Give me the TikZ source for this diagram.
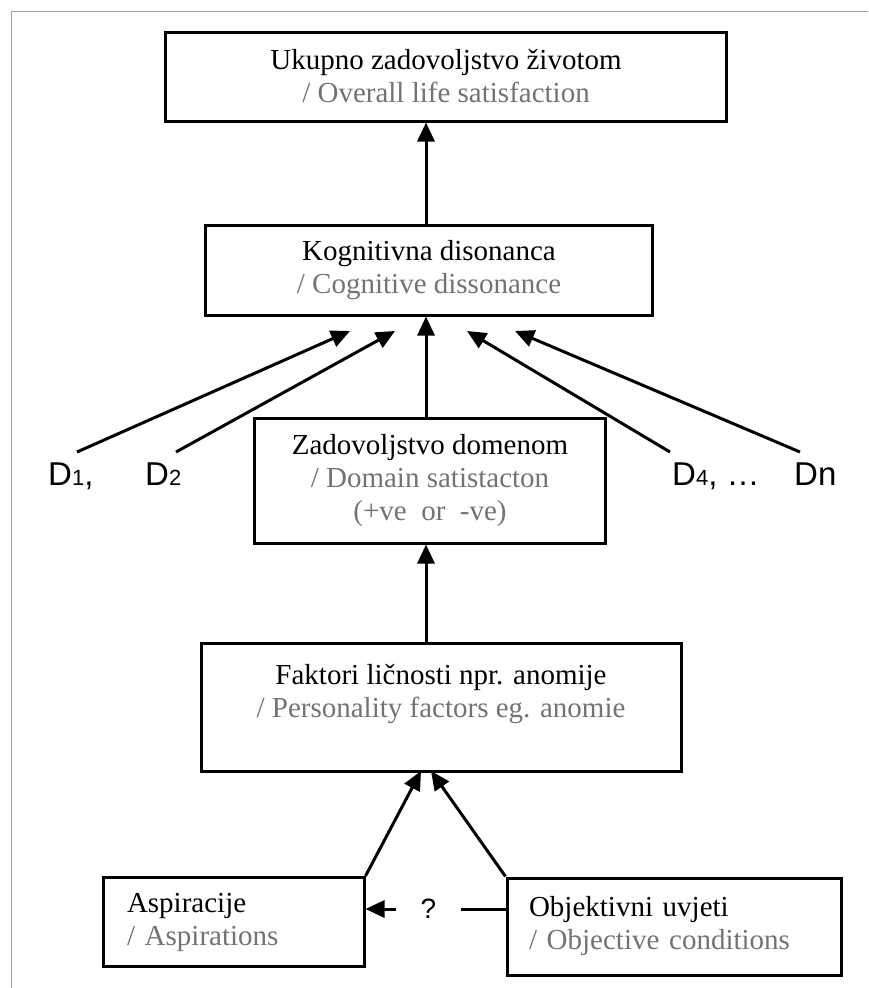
\documentclass[tikz,border=0pt]{standalone}
\usepackage{fontspec}
\setmainfont{Liberation Serif}
\newfontfamily\sansf{Liberation Sans}
\usetikzlibrary{arrows.meta}
\definecolor{txtgray}{RGB}{115,115,115}
\definecolor{framegray}{RGB}{160,160,160}
\newcommand\dsub[1]{{\fontsize{22}{22}\selectfont #1}}
\begin{document}
\begin{tikzpicture}[x=1pt,y=-1pt,
  box/.style={draw, line width=3pt, inner sep=0pt, align=center,
    font=\fontsize{29}{33}\selectfont},
  arr/.style={line width=3pt, -{Triangle[length=19pt,width=17pt]}},
  dlab/.style={font=\sansf\fontsize{33}{38}\selectfont, inner sep=0pt, anchor=base west},
  qlab/.style={font=\sansf\fontsize{28}{32}\selectfont, fill=white, inner xsep=25pt, inner ysep=2pt}]
\useasboundingbox (0,0) rectangle (868,988);
\draw[framegray, line width=1.5pt] (11.3,988) -- (11.3,11.5) -- (868,11.5);

\node[box, minimum width=561pt, minimum height=89pt] (B1) at (446,76.5)
  {Ukupno zadovoljstvo životom\\ \textcolor{txtgray}{/ Overall life satisfaction}};
\node[box, minimum width=447pt, minimum height=90pt] (B2) at (429,270)
  {Kognitivna disonanca\\ \textcolor{txtgray}{/ Cognitive dissonance}};
\node[box, minimum width=351pt, minimum height=125pt] (B3) at (430,480.5)
  {Zadovoljstvo domenom\\ \textcolor{txtgray}{/ Domain satistacton}\\ \textcolor{txtgray}{(+ve~ or~ -ve)}};
\node[box, minimum width=480pt, minimum height=128pt] (B4) at (441,707)
  {Faktori ličnosti npr. anomije\\ \textcolor{txtgray}{/ Personality factors eg. anomie}\\ \mbox{}};
\node[box, align=left, inner xsep=24pt, text width=213pt, minimum height=89pt] (B5) at (233.5,922)
  {Aspiracije\\ \textcolor{txtgray}{/ Aspirations}};
\node[box, align=left, inner xsep=22pt, text width=290pt, minimum height=97pt] (B6) at (674,926.5)
  {Objektivni uvjeti\\ \textcolor{txtgray}{/ Objective conditions}};

\node[dlab] (D1) at (48,485) {D\dsub{1},};
\node[dlab] (D2) at (145,485) {D\dsub{2}};
\node[dlab] (D4) at (672,485) {D\dsub{4}, …};
\node[dlab] (Dn) at (794,485) {Dn};

\coordinate (ax) at (426,0);
\coordinate (s1) at (77,452);  \coordinate (t1) at (350,331);
\coordinate (s2) at (176,452); \coordinate (t2) at (395,331);
\coordinate (s4) at (670,452); \coordinate (t4) at (467,331);
\coordinate (sn) at (800,452); \coordinate (tn) at (515,331);
\coordinate (m1) at (421,771); \coordinate (m2) at (431,771);
\coordinate (qy) at (0,909);

\draw[arr] (B2.north -| ax) -- (B1.south -| ax);
\draw[arr] (B3.north -| ax) -- (B2.south -| ax);
\draw[arr] (B4.north -| ax) -- (B3.south -| ax);
\draw[arr] (s1) -- (t1);
\draw[arr] (s2) -- (t2);
\draw[arr] (s4) -- (t4);
\draw[arr] (sn) -- (tn);
\draw[arr] (B5.north east) -- (m1);
\draw[arr] (B6.north west) -- (m2);
\draw[arr] (B6.west |- qy) -- node[qlab, pos=0.55] (Q) {?} (B5.east |- qy);
\end{tikzpicture}
\end{document}
